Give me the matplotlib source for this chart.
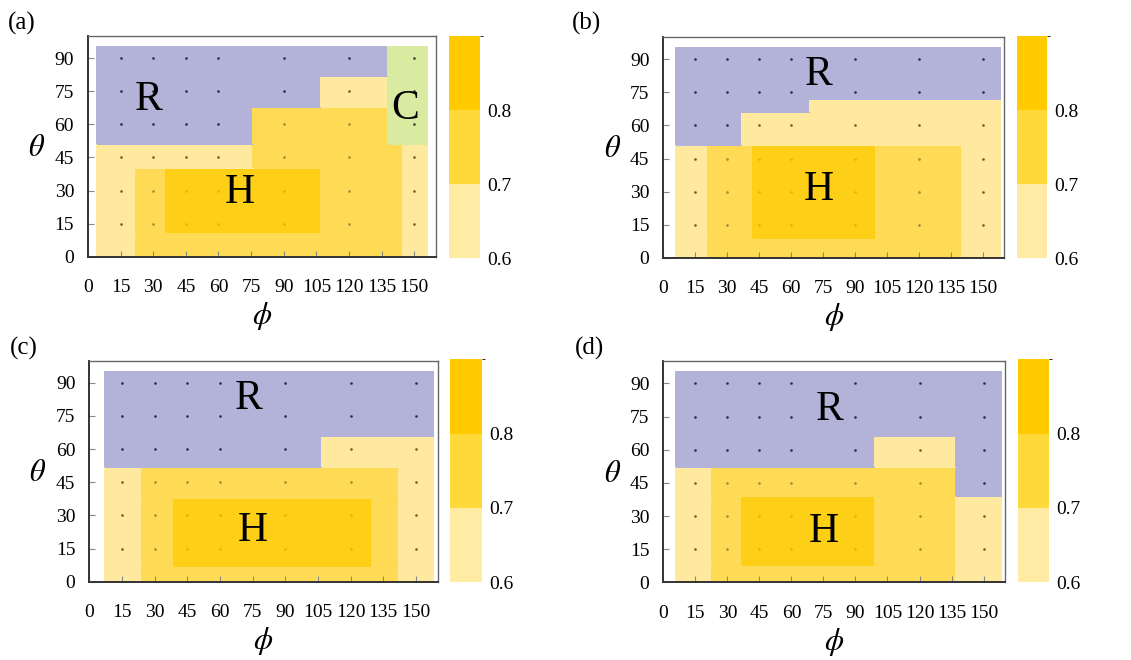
import matplotlib
matplotlib.use('Agg')
import matplotlib.pyplot as plt
import numpy as np
from matplotlib.colors import ListedColormap, BoundaryNorm
from matplotlib.cm import ScalarMappable

plt.rcParams.update({
    'font.family': 'serif',
    'font.serif': ['Liberation Serif', 'DejaVu Serif'],
    'mathtext.fontset': 'stix',
})

# ── Data ──
# sampled (phi, theta) grid points shown as dots
phi_pts = [15, 30, 45, 60, 90, 120, 150]
theta_pts = [15, 30, 45, 60, 75, 90]

# region codes: 1 = 0.6-0.7, 2 = 0.7-0.8, 3 = >0.8 (H), 4 = R, 5 = C
phi_edges_a = [4, 22, 36, 76, 107, 138, 145, 156]
theta_edges_a = [0, 11, 40, 51, 68, 82, 95]
codes_a = [[1, 2, 2, 2, 2, 2, 1],
           [1, 2, 3, 3, 2, 2, 1],
           [1, 1, 1, 2, 2, 2, 1],
           [4, 4, 4, 2, 2, 5, 5],
           [4, 4, 4, 4, 1, 5, 5],
           [4, 4, 4, 4, 4, 5, 5]]

phi_edges_b = [6, 21, 37, 42, 69, 100, 140, 158]
theta_edges_b = [0, 9, 51, 66, 72, 95]
codes_b = [[1, 2, 2, 2, 2, 2, 1],
           [1, 2, 2, 3, 3, 2, 1],
           [4, 4, 1, 1, 1, 1, 1],
           [4, 4, 4, 4, 1, 1, 1],
           [4, 4, 4, 4, 4, 4, 4]]

phi_edges_c = [7, 24, 39, 107, 130, 142, 158]
theta_edges_c = [0, 7, 38, 52, 66, 95]
codes_c = [[1, 2, 2, 2, 2, 1],
           [1, 2, 3, 3, 2, 1],
           [1, 2, 2, 2, 2, 1],
           [4, 4, 4, 1, 1, 1],
           [4, 4, 4, 4, 4, 4]]

phi_edges_d = [6, 23, 37, 99, 137, 158]
theta_edges_d = [0, 8, 39, 52, 66, 95]
codes_d = [[1, 2, 2, 2, 1],
           [1, 2, 3, 2, 1],
           [1, 2, 2, 2, 4],
           [4, 4, 4, 1, 4],
           [4, 4, 4, 4, 4]]

# region letters (label, phi, theta)
labels_a = [('R', 28, 71), ('H', 70, 29), ('C', 146, 67)]
labels_b = [('R', 73, 83), ('H', 73, 31)]
labels_c = [('R', 73, 83), ('H', 75, 23)]
labels_d = [('R', 78, 78), ('H', 75, 23)]

cbar_levels = [0.6, 0.7, 0.8, 0.9]
cbar_ticks = [0.6, 0.7, 0.8]

# ── Styles ──
region_colors = ['#FFFFFF', '#FFE99F', '#FFDB55', '#FDCF17', '#B3B3D9', '#D9EAA1']
dot_colors = ['#000000', '#6E5E28', '#A08A2A', '#D8B418', '#2E2E3C', '#3C4030']
cbar_colors = ['#FFEBA3', '#FFD93A', '#FFCB00']

region_cmap = ListedColormap(region_colors)
region_norm = BoundaryNorm(np.arange(-0.5, 6.5, 1), region_cmap.N)

panels = [
    ('(a)', phi_edges_a, theta_edges_a, codes_a, labels_a,
     [0.0778, 0.611, 0.3077, 0.3344], [0.397, 0.609, 0.0274, 0.3364], (0.007, 0.982)),
    ('(b)', phi_edges_b, theta_edges_b, codes_b, labels_b,
     [0.5865, 0.6095, 0.3015, 0.334], [0.899, 0.6086, 0.027, 0.3364], (0.506, 0.982)),
    ('(c)', phi_edges_c, theta_edges_c, codes_c, labels_c,
     [0.079, 0.1186, 0.308, 0.3348], [0.398, 0.1177, 0.028, 0.338], (0.009, 0.49)),
    ('(d)', phi_edges_d, theta_edges_d, codes_d, labels_d,
     [0.5865, 0.1177, 0.302, 0.3348], [0.8998, 0.1177, 0.0277, 0.338], (0.508, 0.49)),
]

fig = plt.figure(figsize=(11.31, 6.6), dpi=100)

for tag, pe, te, codes, letters, ax_pos, cb_pos, tag_pos in panels:
    ax = fig.add_axes(ax_pos)
    grid = np.array(codes)
    ax.pcolormesh(pe, te, grid, cmap=region_cmap, norm=region_norm,
                  edgecolors='face', linewidth=0.3, zorder=1)

    # sample points, tinted by the region they sit in
    for th in theta_pts:
        j = np.searchsorted(te, th) - 1
        for ph in phi_pts:
            i = np.searchsorted(pe, ph) - 1
            ax.plot(ph, th, 'o', ms=1.9, mew=0, color=dot_colors[grid[j, i]], zorder=3)

    for txt, ph, th in letters:
        ax.text(ph, th, txt, fontsize=30, ha='center', va='center', zorder=4)

    ax.set_xlim(0, 160)
    ax.set_ylim(0, 100)
    ax.set_xticks(np.arange(0, 151, 15))
    ax.set_yticks(np.arange(0, 91, 15))
    ax.tick_params(direction='in', length=4, width=0.8, color='#888888',
                   labelsize=14, pad=3)
    ax.tick_params(axis='x', pad=16)
    ax.tick_params(axis='y', pad=10)
    for s in ax.spines.values():
        s.set_color('#666666')
        s.set_linewidth(1.0)
    ax.spines['left'].set_color('#333333')
    ax.spines['bottom'].set_color('#333333')
    ax.spines['left'].set_linewidth(1.4)
    ax.spines['bottom'].set_linewidth(1.4)

    ax.set_ylabel(r'$\theta$', fontsize=22, rotation=0, va='center', ha='center')
    ax.yaxis.set_label_coords(-0.149, 0.49)
    ax.set_xlabel(r'$\phi$', fontsize=22, va='center', ha='center')
    ax.xaxis.set_label_coords(0.5, -0.27)

    cax = fig.add_axes(cb_pos)
    sm = ScalarMappable(norm=BoundaryNorm(cbar_levels, len(cbar_colors)),
                        cmap=ListedColormap(cbar_colors))
    cb = fig.colorbar(sm, cax=cax, ticks=cbar_ticks)
    cb.outline.set_visible(False)
    cb.ax.tick_params(length=0, labelsize=14, pad=5)
    cb.ax.set_yticklabels(['%.1f' % v for v in cbar_ticks])

    fig.text(tag_pos[0], tag_pos[1], tag, fontsize=18, va='top', ha='left')

fig.savefig('out.png', dpi=100)
